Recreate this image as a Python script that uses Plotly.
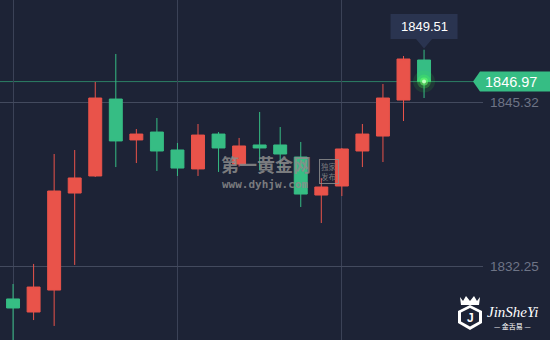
import plotly.graph_objects as go

# ---- data ----
idx = list(range(22))
opens  = [1825.60, 1829.65, 1828.61, 1830.36, 1838.09, 1839.45, 1845.58, 1842.32, 1842.95, 1841.52, 1840.01,
          1842.79, 1840.40, 1841.92, 1841.92, 1840.96, 1837.93, 1838.65, 1841.44, 1842.63, 1845.50, 1848.69]
highs  = [1830.10, 1830.84, 1832.44, 1841.20, 1841.52, 1846.94, 1849.17, 1843.19, 1844.07, 1842.08, 1843.59,
          1842.95, 1842.48, 1844.55, 1843.35, 1842.16, 1839.29, 1841.68, 1843.59, 1846.78, 1849.01, 1849.51]
lows   = [1825.20, 1826.10, 1827.97, 1827.50, 1832.36, 1839.37, 1840.16, 1840.48, 1839.85, 1839.45, 1839.45,
          1839.77, 1840.20, 1839.90, 1839.90, 1836.98, 1835.70, 1837.85, 1840.16, 1840.56, 1843.83, 1845.66]
closes = [1829.83, 1828.93, 1830.60, 1838.25, 1839.29, 1845.66, 1842.24, 1842.79, 1841.44, 1840.08, 1842.71,
          1841.68, 1841.84, 1841.68, 1841.20, 1838.01, 1838.57, 1841.60, 1842.79, 1845.66, 1848.77, 1846.97]
grid_prices = [1832.25, 1845.32]
grid_candles = [1, 9, 17]
last_price = 1846.97
high_label = 1849.51

# ---- styling ----
BG = "#1d2336"
RED = "#e9534a"
GREEN = "#36bd84"
GRID = "#3b4257"
W, H = 550, 340
ML, MR = 0, 67
PW = W - ML - MR

def px(x):  # pixel -> paper x
    return (x - ML) / PW

def py(y):  # pixel -> paper y
    return 1 - y / H

fig = go.Figure()
fig.add_trace(go.Candlestick(
    x=idx, open=opens, high=highs, low=lows, close=closes,
    increasing=dict(line=dict(color=RED, width=1), fillcolor=RED),
    decreasing=dict(line=dict(color=GREEN, width=1), fillcolor=GREEN),
    hoverinfo="skip", showlegend=False,
))

# glow at last close
last_i = idx[-1]
for size, col in [(22, "rgba(60,255,60,0.10)"), (14, "rgba(80,255,80,0.25)"), (8, "rgba(110,255,110,0.55)"), (4, "rgba(190,255,190,1)")]:
    fig.add_trace(go.Scatter(x=[last_i], y=[closes[-1]], mode="markers",
                             marker=dict(size=size, color=col, line=dict(width=0)),
                             hoverinfo="skip", showlegend=False))

shapes = []
# current price line
shapes.append(dict(type="line", xref="paper", yref="y", x0=0, x1=px(474), y0=last_price, y1=last_price,
                   line=dict(color="rgba(54,189,132,0.6)", width=1), layer="below"))
# price tag
yt, yb = last_price + 10 / 12.55, last_price - 10 / 12.55
shapes.append(dict(type="path", xref="paper", yref="y",
                   path=f"M {px(473)},{last_price} L {px(480)},{yt} L {px(550)},{yt} L {px(550)},{yb} L {px(480)},{yb} Z",
                   fillcolor=GREEN, line=dict(width=0)))
# tooltip box over the high
hx = last_i
hw, tw = 1.63, 0.39
b0 = high_label + 0.85
b1 = high_label + 2.85
tip = high_label + 0.1
shapes.append(dict(type="path", xref="x", yref="y",
                   path=(f"M {hx-hw},{b0} L {hx-tw},{b0} L {hx},{tip} L {hx+tw},{b0} L {hx+hw},{b0} "
                         f"L {hx+hw},{b1} L {hx-hw},{b1} Z"),
                   fillcolor="#2a3450", line=dict(width=0)))

# JinSheYi logo (approximate)
def poly(points, **kw):
    d = "M " + " L ".join(f"{px(a)},{py(b)}" for a, b in points) + " Z"
    return dict(type="path", xref="paper", yref="paper", path=d, **kw)

shapes.append(poly([(458, 311), (470, 305), (482, 311), (482, 323), (470, 330), (458, 323)],
                   fillcolor="white", line=dict(width=0)))
shapes.append(poly([(461, 312.5), (470, 308), (479, 312.5), (479, 321.5), (470, 326.5), (461, 321.5)],
                   fillcolor=BG, line=dict(width=0)))
shapes.append(poly([(460, 297), (463, 301), (466, 296), (470, 301), (474, 296), (477, 301), (480, 297),
                    (479, 305), (461, 305)], fillcolor="white", line=dict(width=0)))

annotations = []
annotations.append(dict(xref="paper", yref="y", x=px(511), y=last_price, text="1846.97", showarrow=False,
                        font=dict(family="Liberation Sans, Arial", size=14.5, color="white"),
                        xanchor="center", yanchor="middle"))
annotations.append(dict(xref="x", yref="y", x=hx, y=(b0 + b1) / 2, text="1849.51", showarrow=False,
                        font=dict(family="Liberation Sans, Arial", size=13, color="white"),
                        xanchor="center", yanchor="middle"))
# watermark
annotations.append(dict(xref="paper", yref="paper", x=px(266), y=py(164), text="<b>第一黄金网</b>", showarrow=False,
                        font=dict(family="Noto Sans CJK SC", size=18, color="rgba(140,140,140,0.85)"),
                        xanchor="center", yanchor="middle"))
annotations.append(dict(xref="paper", yref="paper", x=px(265), y=py(185), text="<b>www.dyhjw.com</b>", showarrow=False,
                        font=dict(family="DejaVu Sans Mono", size=11, color="rgba(140,140,140,0.85)"),
                        xanchor="center", yanchor="middle"))
annotations.append(dict(xref="paper", yref="paper", x=px(329), y=py(171), text="独家<br>发布", showarrow=False,
                        font=dict(family="Noto Sans CJK SC", size=7.5, color="rgba(140,140,140,0.85)"),
                        bordercolor="rgba(140,140,140,0.85)", borderwidth=1, borderpad=1,
                        xanchor="center", yanchor="middle"))
# logo text
annotations.append(dict(xref="paper", yref="paper", x=px(512), y=py(312), text="<i>JinSheYi</i>", showarrow=False,
                        font=dict(family="Liberation Serif", size=15, color="white"),
                        xanchor="center", yanchor="middle"))
annotations.append(dict(xref="paper", yref="paper", x=px(470), y=py(318), text="<b>J</b>", showarrow=False,
                        font=dict(family="Liberation Sans", size=12, color="white"),
                        xanchor="center", yanchor="middle"))
annotations.append(dict(xref="paper", yref="paper", x=px(512), y=py(326), text="— 金舌易 —", showarrow=False,
                        font=dict(family="Noto Sans CJK SC", size=7, color="white"),
                        xanchor="center", yanchor="middle"))

spacing = 20.55
x_start = 7.5 / spacing
fig.update_layout(
    width=W, height=H,
    margin=dict(l=ML, r=MR, t=0, b=0, pad=0),
    paper_bgcolor=BG, plot_bgcolor=BG,
    shapes=shapes, annotations=annotations,
    showlegend=False, hovermode=False,
    boxgap=0.1,
    xaxis=dict(range=[x_start, x_start + PW / spacing], rangeslider=dict(visible=False),
               tickvals=grid_candles, showticklabels=False, showgrid=True, gridcolor=GRID, gridwidth=1,
               zeroline=False, showline=False, ticks=""),
    yaxis=dict(range=[1845.32 - (H - 102.3) / 12.55, 1845.32 + 102.3 / 12.55], side="right",
               tickvals=grid_prices, ticktext=[f"{v:.2f}" for v in grid_prices],
               showgrid=True, gridcolor="#434a5e", gridwidth=1, zeroline=False, showline=False, ticks="",
               tickfont=dict(family="Liberation Sans, Arial", size=13.5, color="#6e7486"),
               ticklabelstandoff=6),
)

fig.write_html("out.html")
